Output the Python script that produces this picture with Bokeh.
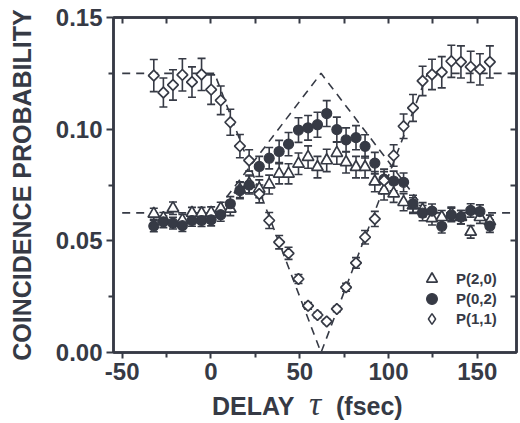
import numpy as np
from bokeh.plotting import figure
from bokeh.layouts import column
from bokeh.models import (Range1d, LinearAxis, FixedTicker, PrintfTickFormatter,
                          CustomJSTickFormatter, ColumnDataSource, Whisker, TeeHead,
                          Legend, LegendItem, Div)
from bokeh.embed import file_html
from bokeh.resources import INLINE

# ---------------- data ----------------
delay = [-32.2, -26.8, -21.4, -16.1, -10.7, -5.3, 0.1, 5.5, 10.9, 16.3, 21.5, 27.2,
         32.8, 38.4, 43.7, 49.3, 54.7, 60.0, 65.2, 70.9, 76.1, 81.7, 86.8, 92.3,
         97.5, 102.9, 108.5, 113.8, 119.2, 124.5, 130.0, 135.4, 140.8, 146.3, 151.5, 157.1]

p20 = [0.0621, 0.0602, 0.0646, 0.0592, 0.0625, 0.0624, 0.0626, 0.0645, 0.0643, 0.0729,
       0.0755, 0.0733, 0.0752, 0.0800, 0.0800, 0.0845, 0.0875, 0.0830, 0.0860, 0.0893,
       0.0852, 0.0830, 0.0830, 0.0765, 0.0725, 0.0712, 0.0673, 0.0658, 0.0639, 0.0601,
       0.0606, 0.0621, 0.0606, 0.0540, 0.0606, 0.0587]
e20 = [0.0025, 0.0025, 0.0028, 0.0026, 0.0025, 0.0026, 0.0026, 0.0028, 0.0030, 0.0035,
       0.0040, 0.0040, 0.0042, 0.0045, 0.0045, 0.0048, 0.0050, 0.0048, 0.0050, 0.0050,
       0.0048, 0.0048, 0.0048, 0.0045, 0.0042, 0.0040, 0.0038, 0.0035, 0.0032, 0.0030,
       0.0030, 0.0030, 0.0030, 0.0028, 0.0028, 0.0028]

p02 = [0.0566, 0.0585, 0.0579, 0.0568, 0.0591, 0.0591, 0.0594, 0.0617, 0.0666, 0.0725,
       0.0750, 0.0833, 0.0870, 0.0900, 0.0933, 0.0996, 0.1006, 0.1020, 0.1070, 0.0998,
       0.0952, 0.0962, 0.0923, 0.0848, 0.0776, 0.0768, 0.0762, 0.0666, 0.0624, 0.0633,
       0.0565, 0.0616, 0.0606, 0.0636, 0.0631, 0.0566]
e02 = [0.0025, 0.0026, 0.0026, 0.0026, 0.0026, 0.0027, 0.0027, 0.0029, 0.0032, 0.0036,
       0.0040, 0.0045, 0.0048, 0.0050, 0.0052, 0.0055, 0.0055, 0.0056, 0.0058, 0.0056,
       0.0054, 0.0054, 0.0052, 0.0048, 0.0045, 0.0044, 0.0042, 0.0038, 0.0034, 0.0032,
       0.0030, 0.0030, 0.0030, 0.0030, 0.0030, 0.0028]

p11 = [0.1240, 0.1164, 0.1198, 0.1243, 0.1211, 0.1245, 0.1177, 0.1129, 0.1031, 0.0924,
       0.0860, 0.0710, 0.0591, 0.0494, 0.0444, 0.0329, 0.0209, 0.0168, 0.0139, 0.0195,
       0.0292, 0.0401, 0.0516, 0.0598, 0.0770, 0.0882, 0.1013, 0.1095, 0.1216, 0.1245,
       0.1255, 0.1304, 0.1301, 0.1279, 0.1268, 0.1301]
e11 = [0.0072, 0.0065, 0.0068, 0.0072, 0.0068, 0.0072, 0.0066, 0.0064, 0.0058, 0.0052,
       0.0048, 0.0040, 0.0036, 0.0030, 0.0027, 0.0020, 0.0015, 0.0012, 0.0010, 0.0012,
       0.0018, 0.0024, 0.0030, 0.0034, 0.0040, 0.0048, 0.0055, 0.0060, 0.0066, 0.0068,
       0.0070, 0.0072, 0.0072, 0.0070, 0.0070, 0.0072]

# theoretical (dashed) curves: breakpoints
tau_theory = [-50, 2, 62, 122, 174]
p11_theory = [0.125, 0.125, 0.0, 0.125, 0.125]
p02_theory = [0.0625, 0.0625, 0.125, 0.0625, 0.0625]

x_major = [-50, 0, 50, 100, 150]
x_minor = [-25, 25, 75, 125]
x_top = [-50, -25, 0, 25, 50, 75, 100, 125, 150]
y_major = [0.0, 0.05, 0.10, 0.15]
y_minor = [0.025, 0.075, 0.125]
y_right = [0.025, 0.05, 0.075, 0.10, 0.125]

series_labels = ["P(2,0)", "P(0,2)", "P(1,1)"]

# ---------------- style ----------------
DARK = "#363a45"
FONT = "Liberation Sans"

p = figure(width=520, height=394, x_range=Range1d(-54.9, 172.1), y_range=Range1d(0, 0.15),
           output_backend="svg", toolbar_location=None,
           min_border_left=113, min_border_right=4, min_border_top=17, min_border_bottom=42)
p.xgrid.visible = False
p.ygrid.visible = False
p.outline_line_color = DARK
p.outline_line_width = 2.5
p.background_fill_color = "white"
p.border_fill_color = "white"

# bottom axis
xa = p.xaxis[0]
xa.ticker = FixedTicker(ticks=x_major, minor_ticks=x_minor)
xa.formatter = PrintfTickFormatter(format="%d")
xa.major_tick_out = 6
xa.major_tick_in = 0
xa.minor_tick_out = 5
xa.minor_tick_in = 0
xa.axis_line_width = 2.5
xa.axis_line_color = DARK
xa.major_tick_line_width = 2
xa.minor_tick_line_width = 2
xa.major_tick_line_color = DARK
xa.minor_tick_line_color = DARK
xa.major_label_text_font = FONT
xa.major_label_text_font_size = "24px"
xa.major_label_text_font_style = "bold"
xa.major_label_text_color = DARK
xa.major_label_standoff = 4

# left axis
ya = p.yaxis[0]
ya.ticker = FixedTicker(ticks=y_major, minor_ticks=y_minor)
ya.formatter = PrintfTickFormatter(format="%.2f")
ya.major_tick_out = 7
ya.major_tick_in = 0
ya.minor_tick_out = 5
ya.minor_tick_in = 0
ya.axis_line_width = 2.5
ya.axis_line_color = DARK
ya.major_tick_line_width = 2
ya.minor_tick_line_width = 2
ya.major_tick_line_color = DARK
ya.minor_tick_line_color = DARK
ya.major_label_text_font = FONT
ya.major_label_text_font_size = "24px"
ya.major_label_text_font_style = "bold"
ya.major_label_text_color = DARK
ya.major_label_standoff = 4
ya.axis_label = "COINCIDENCE PROBABILITY"
ya.axis_label_text_font = FONT
ya.axis_label_text_font_size = "25px"
ya.axis_label_text_font_style = "bold"
ya.axis_label_text_color = DARK
ya.axis_label_standoff = 17

# top & right axes (inward ticks, no labels)
top = LinearAxis(ticker=FixedTicker(ticks=x_top, minor_ticks=[]),
                 formatter=CustomJSTickFormatter(code="return ''"),
                 major_tick_in=6, major_tick_out=0,
                 minor_tick_in=0, minor_tick_out=0, major_label_standoff=0,
                 major_label_text_font_size="1px", axis_line_width=2.5,
                 axis_line_color=DARK, major_tick_line_width=2, major_tick_line_color=DARK)
p.add_layout(top, "above")
right = LinearAxis(ticker=FixedTicker(ticks=y_right, minor_ticks=[]),
                   formatter=CustomJSTickFormatter(code="return ''"),
                   major_tick_in=6, major_tick_out=0,
                   minor_tick_in=0, minor_tick_out=0, major_label_standoff=0,
                   major_label_text_font_size="1px", axis_line_width=2.5,
                   axis_line_color=DARK, major_tick_line_width=2, major_tick_line_color=DARK)
p.add_layout(right, "right")

# theory curves
p.line(tau_theory, p11_theory, line_color=DARK, line_width=1.6, line_dash="8 6")
p.line(tau_theory, p02_theory, line_color=DARK, line_width=1.6, line_dash="8 6")

def make_source(y, e):
    y = np.array(y)
    e = np.array(e)
    return ColumnDataSource(dict(x=delay, y=y, lo=y - e, hi=y + e))

src20 = make_source(p20, e20)
src02 = make_source(p02, e02)
src11 = make_source(p11, e11)

for src in (src20, src02, src11):
    w = Whisker(source=src, base="x", lower="lo", upper="hi", dimension="height",
                line_color=DARK, line_width=1.6,
                upper_head=TeeHead(size=8, line_color=DARK, line_width=1.6),
                lower_head=TeeHead(size=8, line_color=DARK, line_width=1.6))
    p.add_layout(w)

r20 = p.scatter("x", "y", source=src20, marker="triangle", size=11.5,
                fill_color="white", line_color=DARK, line_width=1.7)
r02 = p.scatter("x", "y", source=src02, marker="circle", size=10,
                fill_color=DARK, line_color=DARK, line_width=1.2)
# diamond-shaped key glyph for the legend (sits fully under the P(1,1) markers)
r11_key = p.scatter("x", "y", source=src11, marker="diamond", size=7,
                    fill_color="white", line_color=DARK, line_width=1.5)
r11 = p.scatter("x", "y", source=src11, marker="square", angle=0.785398, size=7.6,
                fill_color="white", line_color=DARK, line_width=1.7)

# one single-row legend per series, so rows can sit 20 px apart with large key glyphs
for lab, rend, ypos in zip(series_labels, [r20, r02, r11_key], [60, 40, 20]):
    lg = Legend(items=[LegendItem(label=lab, renderers=[rend])],
                location=(305, ypos), border_line_color=None, background_fill_alpha=0,
                padding=0, margin=0, spacing=0, label_height=20, glyph_height=27,
                glyph_width=27, label_standoff=11, label_text_font=FONT,
                label_text_font_size="15px", label_text_font_style="bold",
                label_text_color=DARK)
    p.add_layout(lg)

# x-axis label with mixed fonts (HTML text under the figure, pulled up 12 px)
span = ("position:absolute;white-space:nowrap;color:%s;margin:0;padding:0;" % DARK)
label_html = (
    '<div style="position:relative;width:520px;height:41px;overflow:visible;">'
    '<span style="%sleft:212px;top:12px;font:bold 25px/25px \'Liberation Sans\';">DELAY</span>'
    '<span style="%sleft:309px;top:5px;font:italic 34px/34px \'Liberation Serif\';">\u03c4</span>'
    '<span style="%sleft:336px;top:12px;font:bold 25px/25px \'Liberation Sans\';">(fsec)</span>'
    '</div>' % (span, span, span))
xlabel = Div(text=label_html, width=520, height=41, margin=(-12, 0, 0, 0))

layout = column(p, xlabel, spacing=0)
open("out.html", "w").write(file_html(layout, INLINE))
